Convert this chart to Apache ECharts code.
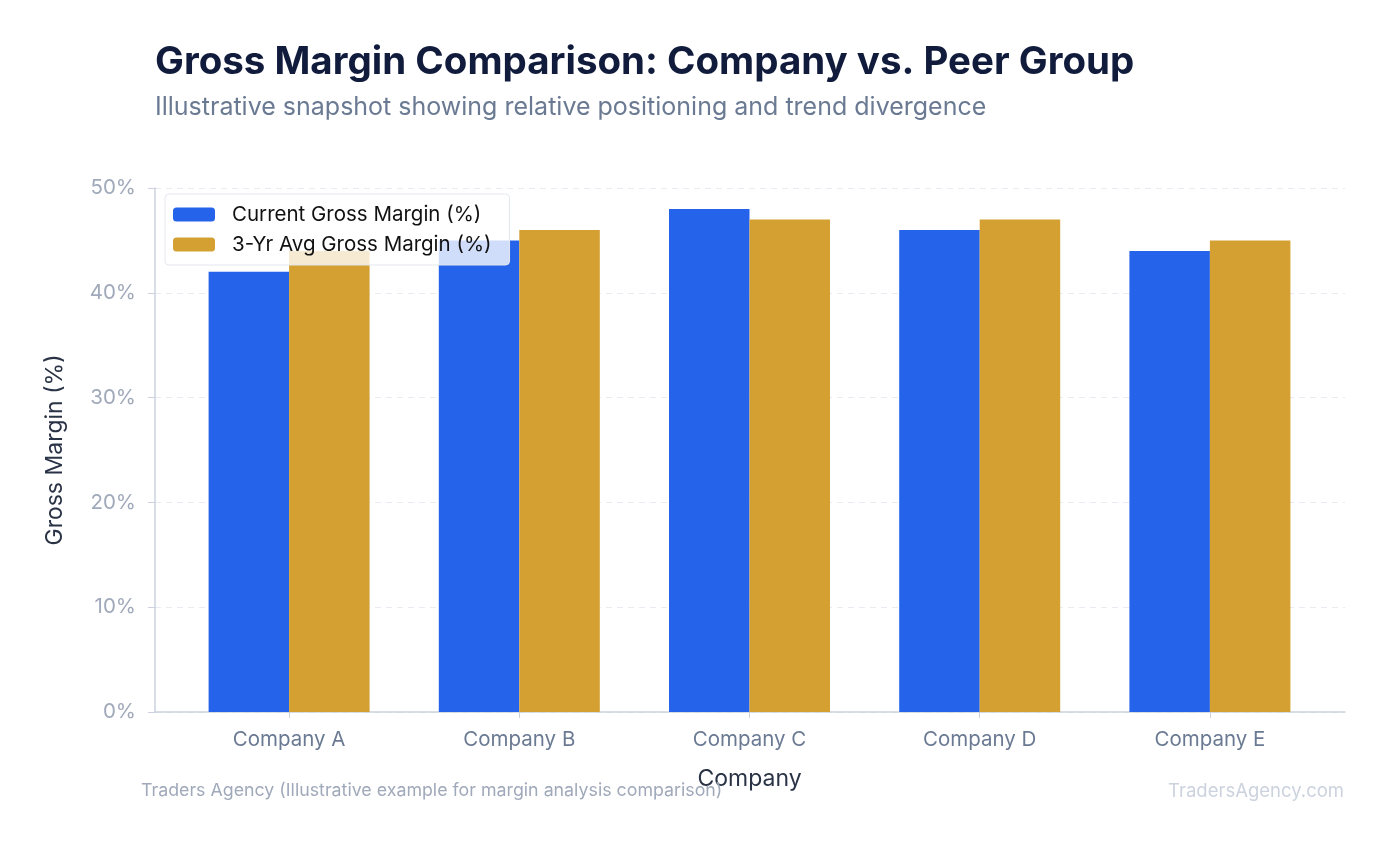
<!DOCTYPE html>
<html lang="en">
<head>
    <meta charset="UTF-8">
    <title>Gross Margin Comparison</title>
    <script src="https://cdn.jsdelivr.net/npm/echarts@6/dist/echarts.min.js"></script>
    <style>
        html, body { margin: 0; padding: 0; background: #fff; }
        #chart { width: 1389px; height: 845px; }
    </style>
</head>
<body>
    <div id="chart"></div>
<script>
    var companies = ['Company A', 'Company B', 'Company C', 'Company D', 'Company E'];
    var currentMargin = [42, 45, 48, 46, 44];
    var avgMargin = [44, 46, 47, 47, 45];
    var yTicks = [0, 10, 20, 30, 40, 50];

    var chart = echarts.init(document.getElementById('chart'));
    chart.setOption({
        textStyle: { fontFamily: 'Inter' },
        title: [{
            text: 'Gross Margin Comparison: Company vs. Peer Group',
            left: 155, top: 43, padding: 0,
            textStyle: { fontSize: 38.5, fontWeight: 'bold', color: '#111c3d', fontFamily: 'Inter' }
        }, {
            text: 'Illustrative snapshot showing relative positioning and trend divergence',
            left: 155, top: 95, padding: 0,
            textStyle: { fontSize: 25, fontWeight: 'normal', color: '#6b7a93', fontFamily: 'Inter' }
        }, {
            text: 'Traders Agency (Illustrative example for margin analysis comparison)',
            left: 141, top: 782, padding: 0,
            textStyle: { fontSize: 17.8, fontWeight: 'normal', color: '#a0a9ba', fontFamily: 'Inter' }
        }, {
            text: 'TradersAgency.com',
            right: 45, top: 782, padding: 0,
            textStyle: { fontSize: 18.5, fontWeight: 'normal', color: '#ccd3de', fontFamily: 'Inter' }
        }],
        legend: {
            orient: 'vertical',
            left: 165, top: 194,
            padding: [10, 18, 10, 8],
            itemWidth: 42, itemHeight: 14, itemGap: 9,
            backgroundColor: 'rgba(255,255,255,0.78)',
            borderColor: '#e3e7ee', borderWidth: 1, borderRadius: 4,
            textStyle: { fontSize: 20.5, color: '#111111', fontFamily: 'Inter', padding: [0, 0, 0, 12] },
            data: ['Current Gross Margin (%)', '3-Yr Avg Gross Margin (%)']
        },
        grid: [
            { left: 155, right: 44, top: 188, bottom: 133 },
            { left: 174, right: 64, top: 188, bottom: 133 }
        ],
        xAxis: [{
            // frame axis: only the bottom line
            type: 'value', gridIndex: 0, min: 0, max: 1,
            axisLine: { show: true, lineStyle: { color: '#cbd2de', width: 1.5 } },
            axisTick: { show: false }, axisLabel: { show: false }, splitLine: { show: false }
        }, {
            type: 'category',
            gridIndex: 1,
            data: companies,
            name: 'Company',
            nameLocation: 'middle',
            nameGap: 56,
            nameTextStyle: { fontSize: 23, color: '#2a3346' },
            axisLine: { show: false },
            axisTick: { show: true, alignWithLabel: true, length: 6, lineStyle: { color: '#cbd2de' } },
            axisLabel: { fontSize: 20.5, color: '#6b7a93', margin: 17 }
        }],
        yAxis: [{
            type: 'value',
            gridIndex: 0,
            min: yTicks[0], max: yTicks[yTicks.length - 1], interval: 10,
            name: 'Gross Margin (%)',
            nameLocation: 'middle',
            nameGap: 88,
            nameTextStyle: { fontSize: 23, color: '#2a3346' },
            axisLine: { show: true, lineStyle: { color: '#cbd2de', width: 1.5 } },
            axisTick: { show: true, length: 7, lineStyle: { color: '#cbd2de' } },
            axisLabel: { fontSize: 20.5, color: '#a0a9ba', margin: 19, formatter: '{value}%' },
            splitLine: { lineStyle: { color: '#e8ecf2', type: [6, 5] } }
        }, {
            type: 'value', gridIndex: 1,
            min: yTicks[0], max: yTicks[yTicks.length - 1],
            show: false
        }],
        series: [{
            name: 'Current Gross Margin (%)',
            type: 'bar',
            xAxisIndex: 1, yAxisIndex: 1,
            data: currentMargin,
            barWidth: 80.5,
            barGap: '0%',
            itemStyle: { color: '#2563eb' }
        }, {
            name: '3-Yr Avg Gross Margin (%)',
            type: 'bar',
            xAxisIndex: 1, yAxisIndex: 1,
            data: avgMargin,
            barWidth: 80.5,
            itemStyle: { color: '#d4a032' }
        }]
    });
    window.onresize = chart.resize;
</script>
</body>
</html>
